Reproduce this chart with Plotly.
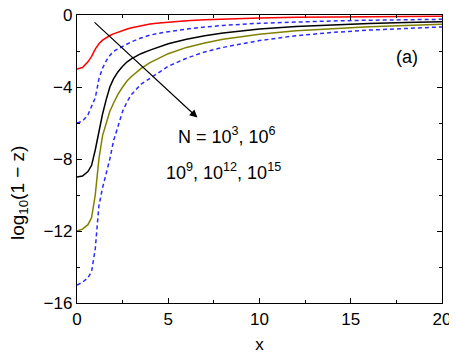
import plotly.graph_objects as go

# x grid shared by all curves
x = [0, 0.3, 0.6, 0.8, 1.0, 1.1, 1.2, 1.4, 1.6, 1.8, 2.0, 2.25, 2.5, 2.75, 3.0, 3.5, 4.0, 4.5,
     5, 6, 7, 8, 10, 12, 14, 16, 18, 20]

# log10(1 - z), one list per N
n3 = [-3.0, -2.92, -2.6, -2.3, -1.9, -1.74, -1.6, -1.4, -1.26, -1.14, -1.05, -0.95, -0.86, -0.78, -0.71,
      -0.6, -0.5, -0.45, -0.4, -0.32, -0.27, -0.22, -0.16, -0.12, -0.1, -0.09, -0.08, -0.07]
n6 = [-6.0, -5.9, -5.55, -5.1, -4.6, -4.1, -3.55, -2.95, -2.55, -2.25, -2.02, -1.88, -1.75, -1.6, -1.48,
      -1.28, -1.12, -1.01, -0.92, -0.78, -0.67, -0.58, -0.46, -0.38, -0.33, -0.29, -0.26, -0.24]
n9 = [-9.0, -8.95, -8.7, -8.35, -7.5, -6.95, -6.4, -5.5, -4.7, -4.0, -3.55, -3.15, -2.85, -2.6, -2.42,
      -2.15, -1.95, -1.76, -1.6, -1.35, -1.15, -1.0, -0.78, -0.64, -0.54, -0.47, -0.41, -0.37]
n12 = [-12.0, -11.9, -11.65, -11.25, -10.0, -9.0, -8.0, -6.7, -5.95, -5.35, -4.9, -4.4, -4.0, -3.65, -3.4,
       -2.98, -2.65, -2.38, -2.15, -1.8, -1.55, -1.35, -1.07, -0.88, -0.75, -0.65, -0.58, -0.52]
n15 = [-15.0, -14.85, -14.6, -14.25, -13.0, -11.9, -10.6, -9.6, -8.8, -8.0, -7.0, -6.1, -5.35, -4.8, -4.4,
       -3.85, -3.5, -3.15, -2.85, -2.4, -2.05, -1.8, -1.42, -1.15, -0.97, -0.84, -0.74, -0.66]

series = [
    ('N=1e3', n3, '#ff0000', 'solid'),
    ('N=1e6', n6, '#2b2bff', '4px,3px'),
    ('N=1e9', n9, '#000000', 'solid'),
    ('N=1e12', n12, '#808000', 'solid'),
    ('N=1e15', n15, '#2b2bff', '4px,3px'),
]

fig = go.Figure()
for name, y, color, dash in series:
    fig.add_trace(go.Scatter(x=x, y=y, mode='lines', name=name,
                             line=dict(color=color, width=1.5, dash=dash)))

# arrow and labels
fig.add_annotation(x=6.6, y=-5.7, ax=0.88, ay=-0.33, xref='x', yref='y', axref='x', ayref='y',
                   text='', showarrow=True, arrowhead=2, arrowsize=1.3, arrowwidth=1.2, arrowcolor='black')
fig.add_annotation(x=8.2, y=-6.72, text='N = 10<sup>3</sup>, 10<sup>6</sup>', showarrow=False,
                   font=dict(size=18, color='black'))
fig.add_annotation(x=8.0, y=-8.72, text='10<sup>9</sup>, 10<sup>12</sup>, 10<sup>15</sup>', showarrow=False,
                   font=dict(size=18, color='black'))
fig.add_annotation(x=18.1, y=-2.33, text='(a)', showarrow=False, font=dict(size=18, color='black'))
# y axis title, placed a bit below the middle like the reference
fig.add_annotation(x=-0.159, y=0.385, xref='paper', yref='paper', xanchor='center', yanchor='middle',
                   text='log<sub>10</sub>(1 − z)', textangle=-90, showarrow=False,
                   font=dict(size=19, color='black'))

axis_style = dict(showline=True, linecolor='black', linewidth=1.3, mirror='allticks', ticks='inside',
                  ticklen=5, tickwidth=1.2, tickcolor='black', showgrid=False, zeroline=False,
                  automargin=False, ticklabeloverflow='allow', tickfont=dict(size=17, color='black'))

# page body has an 8px margin, so the figure is a bit smaller than the window
fig.update_layout(
    width=449, height=354,
    margin=dict(l=69, r=15, t=7, b=59),
    paper_bgcolor='white', plot_bgcolor='white',
    font=dict(family='Liberation Sans, Arial', color='black'),
    showlegend=False,
    xaxis=dict(range=[0, 20], tickvals=[0, 5, 10, 15, 20],
               minor=dict(tickvals=[2.5, 7.5, 12.5, 17.5], ticks='inside', ticklen=3, tickcolor='black'),
               title=dict(text='x', font=dict(size=17), standoff=10), **axis_style),
    yaxis=dict(range=[-16, 0], tickvals=[0, -4, -8, -12, -16],
               minor=dict(tickvals=[-2, -6, -10, -14], ticks='inside', ticklen=3, tickcolor='black'),
               **axis_style),
)

fig.write_html("out.html")
